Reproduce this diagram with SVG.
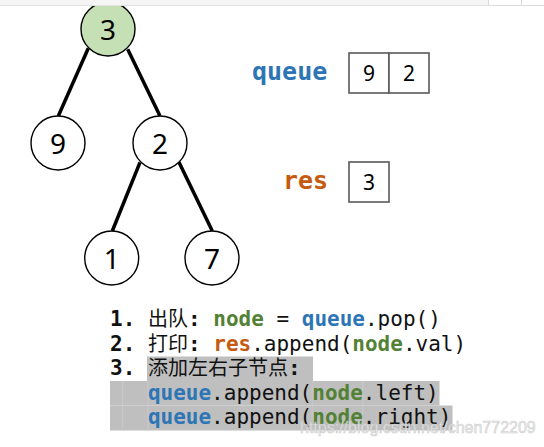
<svg xmlns="http://www.w3.org/2000/svg" width="544" height="447" viewBox="0 0 544 447">
<style>
.node circle{fill:#fff;stroke:#000;stroke-width:1.4}
.node text{font-family:"Noto Sans","Open Sans",sans-serif;font-size:28px;text-anchor:middle;fill:#000}
.edge{stroke:#000;stroke-width:3.5;stroke-linecap:butt}
.box rect{fill:#fff;stroke:#595959;stroke-width:1.6}
.box text{font-family:"Noto Sans","Open Sans",sans-serif;font-size:21px;text-anchor:middle;fill:#000}
.lbl{font-family:"DejaVu Sans Mono",monospace;font-weight:bold;font-size:25px}
.code{font-family:"DejaVu Sans Mono",monospace;font-size:21px;fill:#111}
.b{font-weight:bold}
.cjk{font-family:"Noto Sans CJK SC",sans-serif;font-size:20px}
.q{fill:#2e75b6;font-weight:bold}
.g{fill:#538135;font-weight:bold}
.r{fill:#c55a11;font-weight:bold}
.hl{fill:#bfbfbf}
.sep{stroke:#c9c9c9;stroke-width:1}
</style>
<rect width="544" height="447" fill="#fff"/>
<g id="connectors">
<line class="edge" x1="88.3" y1="48.3" x2="58.3" y2="116"/>
<line class="edge" x1="127.7" y1="49.3" x2="160" y2="116"/>
<line class="edge" x1="140" y1="162.3" x2="112.3" y2="231"/>
<line class="edge" x1="179" y1="162.3" x2="212.3" y2="231"/>
</g>
<g id="n3" class="node"><circle cx="108" cy="29" r="27" style="fill:#c5e0b4"/><text x="108" y="39.5">3</text></g>
<g id="n9" class="node"><circle cx="58" cy="143" r="27"/><text x="58" y="153.5">9</text></g>
<g id="n2" class="node"><circle cx="160" cy="143" r="27"/><text x="160" y="153.5">2</text></g>
<g id="n1" class="node"><circle cx="111.7" cy="258" r="27"/><text x="111.7" y="268.5">1</text></g>
<g id="n7" class="node"><circle cx="212" cy="258" r="27"/><text x="212" y="268.5">7</text></g>
<g id="topbar">
<rect x="0" y="0" width="544" height="5" fill="#f5f5f5"/>
<line x1="0" y1="5.5" x2="544" y2="5.5" stroke="#e2e2e2" stroke-width="1"/>
<rect x="488.5" y="-1" width="33" height="6.5" fill="#fff" stroke="#dcdcdc" stroke-width="1"/>
<rect x="521.5" y="-1" width="24" height="6.5" fill="#fff" stroke="#dcdcdc" stroke-width="1"/>
</g>
<g id="queue">
<text class="lbl" x="252" y="80" fill="#2e75b6">queue</text>
<g class="box"><rect x="349" y="53" width="40" height="40"/><rect x="389" y="53" width="40" height="40"/>
<text x="369" y="80.5">9</text><text x="409" y="80.5">2</text></g>
</g>
<g id="res">
<text class="lbl" x="283" y="189" fill="#c55a11">res</text>
<g class="box"><rect x="349" y="162" width="40" height="40"/><text x="369" y="189.5">3</text></g>
</g>
<g id="code">
<rect class="hl" x="147" y="356.5" width="166" height="24.5"/>
<rect class="hl" x="110" y="381" width="329.5" height="24.5"/>
<rect class="hl" x="110" y="405.5" width="342.5" height="25"/>
<line class="sep" x1="122.6" y1="381" x2="122.6" y2="430.5"/>
<line class="sep" x1="147.9" y1="381" x2="147.9" y2="430.5"/>
<line class="sep" x1="312.2" y1="381" x2="312.2" y2="430.5"/>
<line class="sep" x1="362.8" y1="381" x2="362.8" y2="430.5"/>
<text class="code" x="110" y="326" xml:space="preserve"><tspan class="b">1. </tspan><tspan class="cjk">出队</tspan><tspan class="b">: </tspan><tspan class="g">node</tspan> = <tspan class="q">queue</tspan>.pop()</text>
<text class="code" x="110" y="350.5" xml:space="preserve"><tspan class="b">2. </tspan><tspan class="cjk">打印</tspan><tspan class="b">: </tspan><tspan class="r">res</tspan>.append(<tspan class="g">node</tspan>.val)</text>
<text class="code" x="110" y="375" xml:space="preserve"><tspan class="b">3. </tspan><tspan class="cjk">添加左右子节点</tspan><tspan class="b">:</tspan></text>
<text class="code" x="147.9" y="399.5" xml:space="preserve"><tspan class="q">queue</tspan>.append(<tspan class="g">node</tspan>.left)</text>
<text class="code" x="147.9" y="424" xml:space="preserve"><tspan class="q">queue</tspan>.append(<tspan class="g">node</tspan>.right)</text>
</g>
<text x="300" y="433" font-family="Liberation Sans, Arial, sans-serif" font-size="16" fill="#ececec" stroke="#c4c4c4" stroke-width="0.5" opacity="0.9">https://blog.csdn.net/chen772209</text>
</svg>
